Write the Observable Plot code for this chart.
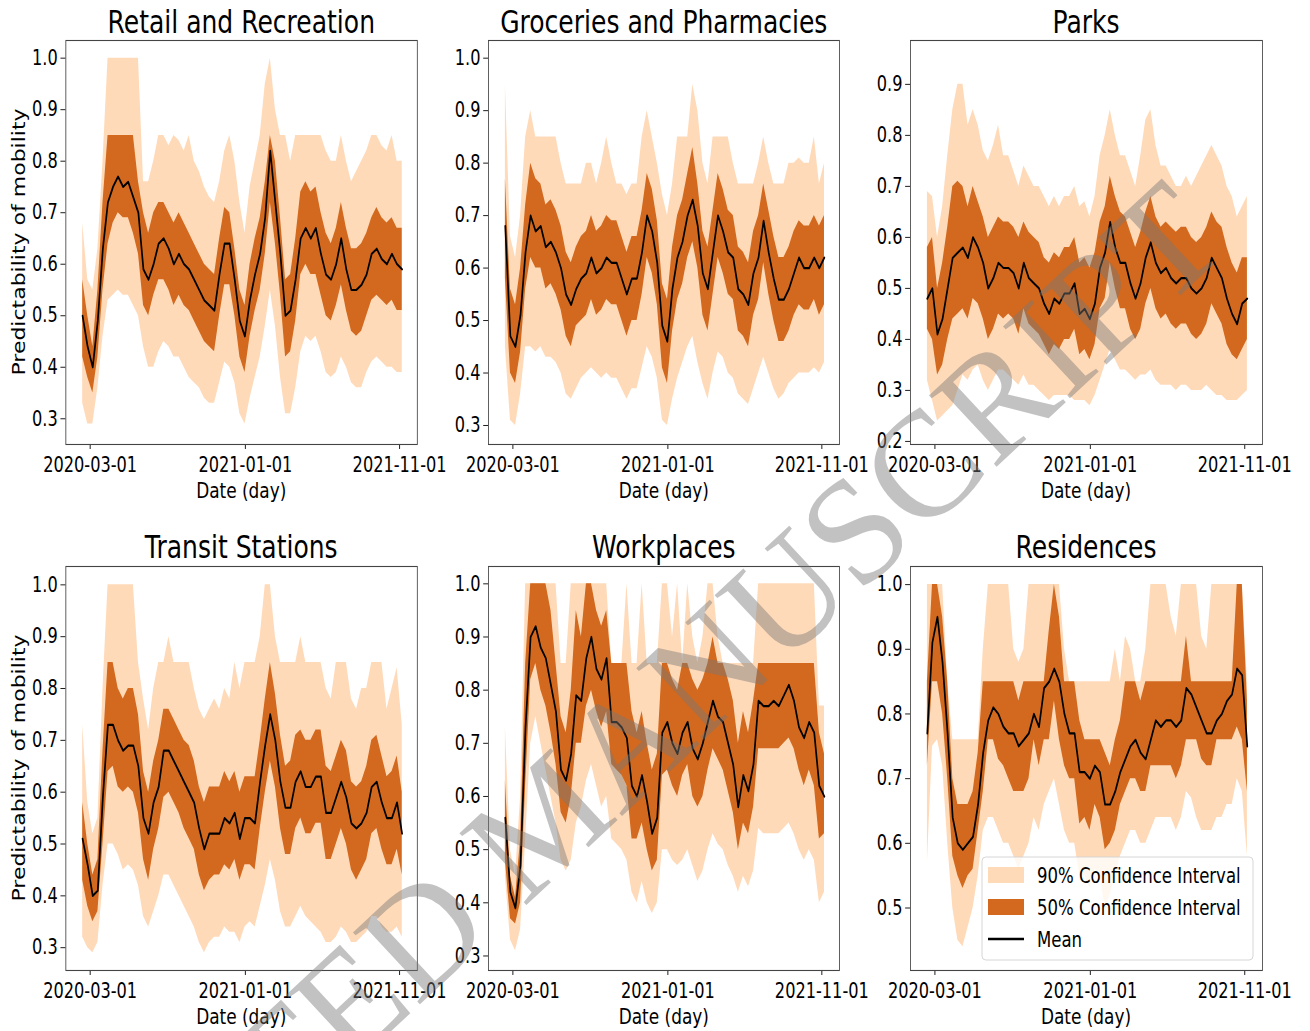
<!DOCTYPE html>
<html><head><meta charset="utf-8">
<script src="https://cdn.jsdelivr.net/npm/d3@7"></script>
<script src="https://cdn.jsdelivr.net/npm/@observablehq/plot@0.6"></script>
<style>
html,body{margin:0;padding:0;background:#fff;}
#wrap{position:relative;width:1310px;height:1031px;overflow:hidden;background:#fff;}
#stage{position:absolute;left:0;top:0;width:1702px;height:1031px;transform:scaleX(0.77);transform-origin:0 0;}
.panel{position:absolute;}
#overlay{position:absolute;left:0;top:0;}
#mark{position:absolute;left:0;top:0;pointer-events:none;}
</style></head><body>
<div id="wrap"><div id="stage"></div></div>
<script>
// ---- time grid (days after 2020-02-15, every 10 days) ----
const startDate = "2020-02-15";
const dayOffsets = [0,10,20,30,40,50,60,70,80,90,100,110,120,130,140,150,160,170,180,190,200,210,220,230,240,250,260,270,280,290,300,310,320,330,340,350,360,370,380,390,400,410,420,430,440,450,460,470,480,490,500,510,520,530,540,550,560,570,580,590,600,610,620,630];
const xTickLabels = ["2020-03-01","2021-01-01","2021-11-01"];
const xDomainDates = ["2020-01-13","2021-12-06"];

const panelTitles = ["Retail and Recreation","Groceries and Pharmacies","Parks","Transit Stations","Workplaces","Residences"];
const yTicksRetail = [0.3,0.4,0.5,0.6,0.7,0.8,0.9,1.0];
const yTicksGroceries = [0.3,0.4,0.5,0.6,0.7,0.8,0.9,1.0];
const yTicksParks = [0.2,0.3,0.4,0.5,0.6,0.7,0.8,0.9];
const yTicksTransit = [0.3,0.4,0.5,0.6,0.7,0.8,0.9,1.0];
const yTicksWork = [0.3,0.4,0.5,0.6,0.7,0.8,0.9,1.0];
const yTicksRes = [0.5,0.6,0.7,0.8,0.9,1.0];
const legendLabels = ["90% Confidence Interval","50% Confidence Interval","Mean"];

// ---- Retail and Recreation ----
const retailMean = [.50,.44,.40,.49,.63,.72,.75,.77,.75,.76,.73,.70,.59,.57,.60,.64,.65,.63,.60,.62,.60,.59,.57,.55,.53,.52,.51,.58,.64,.64,.57,.49,.46,.53,.58,.62,.69,.82,.72,.62,.50,.51,.57,.65,.67,.65,.67,.62,.58,.57,.60,.65,.59,.55,.55,.56,.58,.62,.63,.61,.60,.62,.60,.59];
const retailHi50 = [.57,.50,.44,.55,.72,.85,.85,.85,.85,.85,.85,.76,.70,.66,.70,.72,.72,.70,.68,.70,.68,.66,.64,.62,.60,.59,.58,.65,.71,.70,.63,.55,.52,.60,.65,.69,.76,.85,.80,.69,.57,.58,.65,.74,.76,.74,.75,.70,.66,.64,.67,.72,.67,.63,.63,.64,.66,.69,.71,.69,.68,.69,.67,.67];
const retailLo50 = [.42,.38,.35,.42,.55,.64,.68,.70,.69,.69,.66,.62,.52,.50,.54,.57,.57,.55,.52,.54,.52,.51,.49,.47,.45,.44,.43,.50,.56,.56,.50,.42,.39,.46,.51,.55,.62,.72,.64,.54,.42,.43,.49,.58,.60,.58,.58,.54,.50,.49,.52,.56,.51,.47,.46,.47,.50,.53,.54,.53,.52,.53,.51,.51];
const retailHi90 = [.68,.57,.55,.63,.80,1,1,1,1,1,1,1,.76,.76,.80,.85,.85,.83,.85,.84,.82,.85,.80,.78,.75,.73,.72,.76,.82,.85,.80,.72,.66,.75,.80,.85,.95,1,.90,.85,.85,.80,.85,.85,.85,.85,.85,.85,.82,.80,.80,.85,.80,.76,.78,.80,.82,.85,.85,.83,.82,.85,.80,.80];
const retailLo90 = [.33,.29,.29,.36,.46,.53,.54,.55,.54,.54,.52,.50,.44,.40,.40,.43,.45,.44,.42,.42,.40,.38,.37,.36,.34,.33,.33,.37,.41,.40,.37,.31,.29,.34,.38,.42,.48,.55,.48,.38,.31,.31,.36,.43,.46,.45,.46,.43,.39,.38,.39,.42,.40,.37,.36,.36,.39,.41,.42,.41,.40,.40,.39,.39];

// ---- Groceries and Pharmacies ----
const grocMean = [.68,.47,.45,.51,.63,.70,.67,.68,.64,.65,.63,.60,.55,.53,.56,.58,.59,.62,.59,.60,.62,.61,.61,.58,.55,.58,.58,.63,.70,.67,.61,.49,.46,.56,.62,.65,.70,.73,.68,.59,.56,.63,.70,.67,.63,.62,.56,.55,.53,.59,.62,.69,.63,.58,.54,.54,.56,.59,.62,.60,.60,.62,.60,.62];
const grocHi50 = [.77,.56,.53,.60,.72,.80,.77,.76,.72,.73,.71,.68,.63,.61,.64,.66,.67,.70,.67,.68,.70,.69,.69,.66,.63,.66,.66,.71,.78,.75,.69,.57,.54,.64,.70,.73,.78,.83,.76,.67,.64,.71,.78,.75,.71,.70,.64,.63,.61,.67,.70,.76,.71,.66,.62,.62,.64,.67,.69,.68,.68,.70,.68,.70];
const grocLo50 = [.58,.40,.38,.44,.56,.62,.60,.60,.56,.57,.55,.52,.47,.45,.49,.50,.51,.54,.51,.52,.54,.53,.53,.50,.47,.50,.50,.55,.62,.59,.53,.41,.38,.48,.54,.57,.62,.65,.60,.51,.48,.55,.62,.59,.55,.54,.48,.47,.45,.51,.54,.61,.55,.50,.46,.46,.48,.51,.53,.52,.52,.54,.51,.53];
const grocHi90 = [.95,.66,.62,.70,.85,.90,.85,.85,.85,.85,.85,.80,.76,.76,.76,.76,.80,.80,.76,.80,.85,.80,.76,.76,.74,.76,.76,.85,.90,.85,.80,.74,.70,.76,.85,.85,.85,.95,.90,.80,.76,.85,.85,.85,.85,.80,.76,.76,.76,.76,.80,.85,.80,.76,.76,.76,.80,.80,.81,.80,.80,.85,.76,.80];
const grocLo90 = [.45,.31,.30,.36,.45,.45,.44,.45,.43,.43,.42,.40,.36,.35,.37,.39,.40,.41,.40,.39,.40,.39,.39,.37,.35,.37,.37,.41,.45,.43,.39,.31,.30,.35,.39,.42,.45,.47,.42,.38,.35,.40,.44,.43,.40,.39,.36,.35,.34,.37,.40,.43,.40,.37,.35,.36,.38,.39,.40,.40,.40,.41,.40,.42];

// ---- Parks ----
const parksMean = [.48,.50,.41,.44,.50,.56,.57,.58,.56,.60,.58,.55,.50,.52,.55,.54,.54,.53,.50,.55,.52,.51,.50,.47,.45,.48,.47,.49,.49,.51,.45,.46,.44,.47,.54,.57,.63,.58,.55,.55,.51,.48,.51,.56,.59,.55,.53,.54,.52,.51,.52,.52,.50,.49,.50,.52,.56,.54,.52,.48,.45,.43,.47,.48];
const parksHi50 = [.58,.60,.50,.55,.62,.70,.71,.70,.66,.70,.67,.64,.60,.62,.64,.63,.63,.62,.60,.63,.61,.60,.59,.56,.55,.57,.56,.58,.58,.60,.55,.56,.54,.57,.63,.66,.72,.68,.65,.64,.61,.58,.61,.65,.68,.64,.62,.63,.62,.61,.62,.62,.60,.59,.60,.62,.65,.63,.62,.58,.55,.53,.56,.56];
const parksLo50 = [.42,.40,.33,.35,.40,.44,.45,.46,.44,.48,.47,.44,.40,.42,.45,.44,.45,.44,.41,.46,.43,.42,.41,.39,.37,.39,.38,.40,.40,.42,.37,.38,.36,.39,.46,.48,.55,.50,.46,.46,.42,.40,.42,.47,.50,.46,.44,.45,.43,.42,.43,.43,.41,.40,.41,.43,.47,.45,.43,.39,.37,.36,.38,.40];
const parksHi90 = [.69,.68,.60,.66,.76,.85,.90,.90,.82,.85,.82,.77,.75,.78,.82,.76,.76,.73,.70,.74,.72,.70,.70,.68,.66,.68,.66,.68,.68,.70,.66,.67,.64,.68,.76,.80,.85,.80,.76,.76,.73,.70,.76,.83,.85,.78,.74,.74,.72,.70,.70,.72,.70,.72,.74,.76,.78,.76,.74,.70,.68,.64,.66,.68];
const parksLo90 = [.32,.28,.24,.25,.26,.27,.30,.33,.32,.34,.35,.32,.30,.32,.34,.34,.33,.32,.31,.33,.31,.31,.30,.29,.28,.29,.29,.29,.29,.28,.28,.28,.27,.29,.32,.35,.38,.36,.34,.34,.33,.32,.33,.33,.34,.32,.31,.31,.31,.30,.31,.31,.30,.30,.30,.31,.30,.29,.29,.28,.28,.28,.29,.30];

// ---- Transit Stations ----
const transitMean = [.51,.46,.40,.41,.59,.73,.73,.70,.68,.69,.69,.65,.55,.52,.58,.61,.68,.68,.66,.64,.62,.60,.58,.53,.49,.52,.52,.52,.55,.54,.56,.51,.55,.55,.54,.62,.69,.75,.70,.62,.57,.57,.62,.64,.61,.61,.63,.63,.56,.56,.59,.62,.59,.54,.53,.54,.56,.61,.62,.58,.55,.55,.58,.52];
const transitHi50 = [.58,.50,.44,.47,.68,.85,.85,.80,.78,.80,.80,.75,.64,.60,.66,.70,.76,.76,.74,.72,.70,.69,.66,.61,.58,.61,.61,.61,.64,.62,.64,.60,.63,.63,.63,.70,.78,.85,.79,.71,.65,.66,.71,.72,.70,.70,.72,.72,.65,.64,.67,.70,.68,.62,.61,.62,.65,.70,.71,.67,.63,.64,.67,.60];
const transitLo50 = [.43,.38,.35,.37,.50,.64,.65,.61,.60,.61,.60,.56,.47,.43,.49,.53,.59,.60,.58,.56,.53,.51,.49,.44,.41,.43,.44,.44,.46,.45,.47,.43,.46,.46,.45,.53,.60,.66,.61,.53,.48,.48,.53,.55,.52,.52,.54,.54,.47,.47,.50,.53,.50,.45,.43,.45,.47,.52,.53,.49,.46,.46,.49,.44];
const transitHi90 = [.73,.58,.52,.55,.80,1,1,1,1,1,1,.85,.78,.72,.80,.85,.85,.90,.85,.85,.85,.85,.80,.76,.74,.76,.78,.76,.80,.78,.85,.80,.85,.85,.85,.90,1,1,.90,.85,.85,.85,.85,.90,.85,.85,.85,.85,.80,.78,.85,.85,.85,.78,.76,.80,.80,.85,.85,.85,.76,.80,.84,.73];
const transitLo90 = [.32,.30,.29,.31,.42,.50,.50,.48,.45,.46,.45,.42,.36,.34,.37,.40,.44,.44,.42,.40,.38,.36,.34,.31,.29,.31,.32,.32,.34,.33,.33,.31,.34,.35,.34,.38,.42,.47,.43,.37,.34,.34,.36,.38,.36,.35,.34,.33,.31,.31,.32,.34,.33,.31,.31,.32,.33,.36,.36,.34,.33,.33,.34,.32];

// ---- Workplaces ----
const workMean = [.56,.42,.39,.47,.73,.90,.92,.88,.86,.81,.76,.65,.63,.68,.79,.78,.86,.90,.84,.82,.86,.74,.74,.73,.71,.62,.60,.64,.59,.53,.56,.72,.74,.70,.68,.72,.74,.69,.67,.70,.74,.78,.75,.74,.70,.66,.58,.64,.61,.66,.78,.77,.77,.78,.77,.79,.81,.78,.73,.71,.74,.72,.62,.60];
const workHi50 = [.63,.45,.41,.52,.85,1,1,1,1,.95,.85,.75,.72,.80,.95,.90,1,1,.95,.92,.95,.85,.85,.85,.85,.76,.72,.76,.70,.65,.68,.85,.85,.82,.80,.85,.85,.82,.80,.82,.85,.90,.85,.85,.82,.78,.70,.76,.72,.78,.85,.85,.85,.85,.85,.85,.85,.85,.85,.85,.85,.85,.72,.68];
const workLo50 = [.48,.37,.36,.40,.62,.82,.85,.80,.77,.72,.66,.57,.55,.60,.70,.70,.77,.80,.76,.73,.76,.66,.65,.64,.62,.52,.52,.55,.50,.46,.48,.64,.65,.62,.60,.64,.66,.60,.58,.60,.65,.69,.67,.65,.61,.57,.50,.55,.53,.58,.69,.69,.69,.69,.69,.70,.71,.69,.65,.62,.65,.62,.52,.53];
const workHi90 = [.73,.50,.45,.60,1,1,1,1,1,1,1,.85,.85,1,1,1,1,1,1,1,1,.85,.85,.85,1,.85,.85,1,.85,.85,.85,1,1,.90,1,.85,1,.90,.85,.90,1,1,.90,.85,.85,.85,.85,.85,.85,.85,1,1,1,1,1,1,1,1,1,1,1,1,.77,.77];
const workLo90 = [.45,.33,.31,.35,.52,.70,.75,.70,.65,.60,.55,.48,.46,.48,.55,.58,.63,.66,.62,.58,.60,.52,.51,.50,.48,.42,.40,.44,.40,.38,.40,.50,.50,.48,.47,.48,.50,.47,.44,.46,.50,.53,.51,.50,.47,.45,.42,.45,.43,.46,.54,.53,.53,.53,.53,.54,.55,.53,.50,.48,.50,.48,.40,.42];

// ---- Residences ----
const resMean = [.77,.91,.95,.88,.77,.64,.60,.59,.60,.61,.66,.74,.79,.81,.80,.78,.77,.77,.75,.76,.77,.80,.78,.84,.85,.87,.85,.80,.77,.77,.71,.71,.70,.72,.71,.66,.66,.68,.71,.73,.75,.76,.74,.73,.76,.79,.78,.79,.79,.78,.79,.84,.83,.81,.79,.77,.77,.79,.80,.82,.83,.87,.86,.75];
const resHi50 = [.85,1,1,.95,.85,.70,.66,.66,.66,.68,.74,.85,.85,.85,.85,.85,.85,.85,.82,.85,.85,.85,.85,.85,.93,1,.95,.85,.85,.85,.79,.76,.76,.76,.76,.74,.72,.76,.79,.85,.85,.85,.82,.85,.85,.85,.85,.85,.85,.85,.85,.92,.85,.85,.85,.85,.85,.85,.85,.85,.85,1,1,.82];
const resLo50 = [.72,.85,.85,.80,.70,.58,.55,.53,.55,.56,.62,.68,.76,.76,.73,.72,.70,.68,.68,.68,.70,.76,.72,.76,.76,.82,.76,.72,.70,.70,.63,.64,.62,.66,.64,.59,.60,.62,.66,.68,.70,.70,.68,.68,.72,.72,.72,.72,.72,.70,.72,.76,.76,.76,.73,.72,.72,.76,.76,.76,.76,.78,.76,.68];
const resHi90 = [1,1,1,1,.85,.76,.76,.76,.76,.76,.76,.90,1,1,1,1,1,.90,.88,.90,1,1,1,1,1,1,1,.90,.85,.85,.85,.85,.85,.85,.85,.85,.85,.90,.85,.92,.90,.85,.85,.90,1,1,1,1,.95,.92,1,1,1,1,.92,.90,1,1,1,1,1,1,1,.85];
const resLo90 = [.57,.75,.76,.72,.60,.50,.45,.44,.47,.50,.55,.62,.64,.64,.62,.60,.60,.58,.56,.58,.60,.64,.62,.66,.68,.70,.66,.62,.60,.60,.55,.55,.53,.56,.55,.50,.52,.55,.58,.60,.62,.62,.60,.60,.62,.64,.64,.64,.64,.62,.64,.68,.67,.64,.62,.62,.62,.64,.64,.66,.66,.70,.68,.58];

// ---- layout ----
const S = 0.77;                 // horizontal compression of the figure
const C90 = "#ffdab9", C50 = "#d2691e";
const FONT = "DejaVu Sans, Verdana, sans-serif";
const colL = [65.5, 488.3, 910], colW = [351.5, 351, 352];
const rowT = [40, 566], rowH = [404, 404];
const panels = [
  {mean:retailMean, hi50:retailHi50, lo50:retailLo50, hi90:retailHi90, lo90:retailLo90, yDomain:[0.2501,1.0343], yTicks:yTicksRetail, c:0, r:0},
  {mean:grocMean, hi50:grocHi50, lo50:grocLo50, hi90:grocHi90, lo90:grocLo90, yDomain:[0.2638,1.0337], yTicks:yTicksGroceries, c:1, r:0},
  {mean:parksMean, hi50:parksHi50, lo50:parksLo50, hi90:parksHi90, lo90:parksLo90, yDomain:[0.194,0.986], yTicks:yTicksParks, c:2, r:0},
  {mean:transitMean, hi50:transitHi50, lo50:transitLo50, hi90:transitHi90, lo90:transitLo90, yDomain:[0.256,1.0354], yTicks:yTicksTransit, c:0, r:1},
  {mean:workMean, hi50:workHi50, lo50:workLo50, hi90:workHi90, lo90:workLo90, yDomain:[0.2727,1.0326], yTicks:yTicksWork, c:1, r:1},
  {mean:resMean, hi50:resHi50, lo50:resLo50, hi90:resHi90, lo90:resLo90, yDomain:[0.4034,1.028], yTicks:yTicksRes, c:2, r:1}
];
const t0 = new Date(startDate + "T00:00:00Z").getTime();
const dates = dayOffsets.map(d => new Date(t0 + d * 864e5));
const stage = document.getElementById("stage");
const ML = 80, MR = 70, MT = 10, MB = 50;

panels.forEach((p, k) => {
  const rows = dates.map((date, i) => ({date, mean:p.mean[i], lo50:p.lo50[i], hi50:p.hi50[i], lo90:p.lo90[i], hi90:p.hi90[i]}));
  const fw = colW[p.c] / S;
  const chart = Plot.plot({
    width: ML + fw + MR, height: MT + rowH[p.r] + MB,
    marginLeft: ML, marginRight: MR, marginTop: MT, marginBottom: MB,
    style: {background:"transparent", fontSize:"21px", fontFamily:FONT, color:"#000", overflow:"visible", maxWidth:"none"},
    x: {type:"utc", domain: xDomainDates.map(s => new Date(s + "T00:00:00Z")), ticks: xTickLabels.map(s => new Date(s + "T00:00:00Z")),
        tickFormat: d3.utcFormat("%Y-%m-%d"), tickSize: 5, tickPadding: 8, label: null},
    y: {domain: p.yDomain, ticks: p.yTicks, tickFormat: d => d.toFixed(1), tickSize: 6.5, tickPadding: 4, label: null},
    marks: [
      Plot.areaY(rows, {x:"date", y1:"lo90", y2:"hi90", fill:C90}),
      Plot.areaY(rows, {x:"date", y1:"lo50", y2:"hi50", fill:C50}),
      Plot.lineY(rows, {x:"date", y:"mean", stroke:"#000", strokeWidth:2.2}),
      Plot.frame({stroke:"#444", strokeWidth:1.1})
    ]
  });
  const div = document.createElement("div");
  div.className = "panel";
  div.style.left = (colL[p.c] / S - ML) + "px";
  div.style.top = (rowT[p.r] - MT) + "px";
  div.appendChild(chart);
  stage.appendChild(div);
});

// ---- titles, axis labels, legend (same compressed coordinate space) ----
const ov = d3.select(stage).append("svg").attr("id","overlay")
  .attr("width", 1702).attr("height", 1031).style("font-family", FONT);
panels.forEach((p, k) => {
  const cx = (colL[p.c] + colW[p.c] / 2) / S;
  ov.append("text").attr("x", cx).attr("y", p.r === 0 ? 33 : 558).attr("text-anchor","middle")
    .attr("font-size", 32.5).attr("fill","#000").text(panelTitles[k]);
  ov.append("text").attr("x", cx).attr("y", rowT[p.r] + rowH[p.r] + 54).attr("text-anchor","middle")
    .attr("font-size", 22).attr("fill","#000").text("Date (day)");
  if (p.c === 0) {
    const cy = rowT[p.r] + rowH[p.r] / 2;
    ov.append("text").attr("transform", `translate(${25 / S},${cy}) rotate(-90)`).attr("text-anchor","middle")
      .attr("font-size", 22).attr("fill","#000").text("Predictability of mobility");
  }
});
const lg = ov.append("g");
lg.append("rect").attr("x", 982 / S).attr("y", 857).attr("width", 271 / S).attr("height", 103)
  .attr("rx", 5).attr("ry", 4).attr("fill","#fff").attr("fill-opacity",0.8).attr("stroke","#d0d0d0");
lg.append("rect").attr("x", 988 / S).attr("y", 867).attr("width", 36 / S).attr("height", 16).attr("fill", C90);
lg.append("rect").attr("x", 988 / S).attr("y", 899).attr("width", 36 / S).attr("height", 16).attr("fill", C50);
lg.append("line").attr("x1", 988 / S).attr("x2", 1024 / S).attr("y1", 939).attr("y2", 939).attr("stroke","#000").attr("stroke-width", 2.5);
[883, 915, 947].forEach((y, i) => {
  lg.append("text").attr("x", 1037 / S).attr("y", y).attr("font-size", 21.5).attr("fill","#000").text(legendLabels[i]);
});

// ---- watermark ----
const wm = d3.select("#wrap").append("svg").attr("id","mark").attr("width",1310).attr("height",1031);
wm.append("text").attr("transform","translate(545,818) rotate(-43)").attr("text-anchor","middle")
  .attr("dominant-baseline","central").attr("font-family","Liberation Serif, Times New Roman, serif")
  .attr("font-size",150).attr("fill","rgb(120,120,120)").attr("fill-opacity",0.45).text("ACCEPTED MANUSCRIPT");
</script>
</body></html>
